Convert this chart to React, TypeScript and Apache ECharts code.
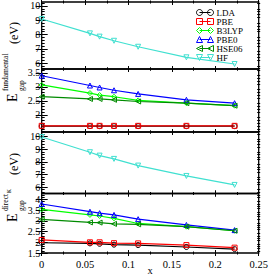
import React, { useEffect, useRef } from "react";
import * as echarts from "echarts";

// ---------------- data ----------------
const xValues = [0, 0.0556, 0.0667, 0.0833, 0.1111, 0.1667, 0.2222];

// fundamental gap (eV)
const hfFund = [9.09, 8.08, 7.85, 7.56, 7.14, 6.4, 5.93];
const ldaFund = [1.6, 1.6, 1.6, 1.6, 1.6, 1.6, 1.6];
const pbeFund = [1.61, 1.61, 1.61, 1.61, 1.61, 1.61, 1.61];
const b3lypFund = [3.07, 2.78, 2.71, 2.65, 2.52, 2.42, 2.33];
const pbe0Fund = [3.4, 3.05, 2.98, 2.88, 2.75, 2.54, 2.42];
const hse06Fund = [2.65, 2.57, 2.57, 2.54, 2.48, 2.42, 2.33];

// direct gap at K (eV)
const hfDirect = [9.97, 8.77, 8.5, 8.24, 7.71, 6.89, 6.18];
const ldaDirect = [1.98, 1.95, 1.93, 1.89, 1.87, 1.78, 1.68];
const pbeDirect = [2.11, 2.0, 2.0, 1.96, 1.95, 1.87, 1.75];
const b3lypDirect = [3.54, 3.28, 3.23, 3.12, 2.88, 2.73, 2.54];
const pbe0Direct = [3.79, 3.43, 3.36, 3.28, 3.08, 2.81, 2.57];
const hse06Direct = [3.07, 2.93, 2.92, 2.86, 2.84, 2.73, 2.54];

// tick labels
const xTickLabels = [0, 0.05, 0.1, 0.15, 0.2, 0.25];
const yTicksHfFund = [6, 7, 8, 9, 10];
const yTicksFund = [2, 2.5, 3, 3.5];
const yTicksHfDirect = [6, 7, 8, 9, 10];
const yTicksDirect = [1.5, 2, 2.5, 3, 3.5, 4];

const methodNames = ["LDA", "PBE", "B3LYP", "PBE0", "HSE06", "HF"];

// ---------------- styles ----------------
const FONT = "Liberation Serif";
const methodStyle: Record<string, { color: string; symbol: string; rotate: number }> = {
  LDA: { color: "#000000", symbol: "circle", rotate: 0 },
  PBE: { color: "#ff0000", symbol: "rect", rotate: 0 },
  B3LYP: { color: "#00ff00", symbol: "diamond", rotate: 0 },
  PBE0: { color: "#0000ff", symbol: "triangle", rotate: 0 },
  HSE06: { color: "#008b00", symbol: "triangle", rotate: 90 },
  HF: { color: "#40e0d0", symbol: "triangle", rotate: 180 },
};

const LEFT = 41.7;
const WIDTH = 217;
const panels = [
  { top: 2, height: 67, y: [5.58, 10.28], major: yTicksHfFund, minor: 0.2,
    series: [["HF", hfFund]] },
  { top: 69, height: 63, y: [1.39, 3.64], major: yTicksFund, minor: 0.1,
    series: [["LDA", ldaFund], ["PBE", pbeFund], ["B3LYP", b3lypFund], ["PBE0", pbe0Fund], ["HSE06", hse06Fund]] },
  { top: 132, height: 61.5, y: [5.5, 10.37], major: yTicksHfDirect, minor: 0.2,
    series: [["HF", hfDirect]] },
  { top: 193.5, height: 59.5, y: [1.5, 4.28], major: yTicksDirect, minor: 0.1,
    series: [["LDA", ldaDirect], ["PBE", pbeDirect], ["B3LYP", b3lypDirect], ["PBE0", pbe0Direct], ["HSE06", hse06Direct]] },
];

function minorValues(min: number, max: number, step: number, majors: number[]) {
  const out: number[] = [];
  const start = Math.ceil(min / step - 1e-9);
  for (let k = start; k * step <= max + 1e-9; k++) {
    const v = +(k * step).toFixed(6);
    if (!majors.some((m) => Math.abs(m - v) < 1e-6)) out.push(v);
  }
  return out;
}

function legendIconPath(symbol: string, rotate: number) {
  const shape = (cx: number) => {
    if (symbol === "circle") {
      const pts: string[] = [];
      for (let i = 0; i < 16; i++) {
        const a = (i / 16) * Math.PI * 2;
        pts.push(`${(cx + 6 * Math.cos(a)).toFixed(3)} ${(6 + 6 * Math.sin(a)).toFixed(3)}`);
      }
      return `M${pts.join(" L")} Z`;
    }
    if (symbol === "rect") return `M${cx - 6} 0 L${cx + 6} 0 L${cx + 6} 12 L${cx - 6} 12 Z`;
    if (symbol === "diamond") return `M${cx} 0 L${cx + 6} 6 L${cx} 12 L${cx - 6} 6 Z`;
    if (rotate === 90) return `M${cx - 6} 6 L${cx + 6} 0 L${cx + 6} 12 Z`;
    if (rotate === 180) return `M${cx} 12 L${cx + 6} 0 L${cx - 6} 0 Z`;
    return `M${cx} 0 L${cx + 6} 12 L${cx - 6} 12 Z`;
  };
  return `path://M6 6 L28 6 ${shape(6)} ${shape(28)}`;
}

function buildOption() {
  const grids: any[] = [];
  const xAxes: any[] = [];
  const yAxes: any[] = [];
  const series: any[] = [];
  const tickLine = { color: "#000", width: 1 };
  const xMinor = minorValues(0, 0.25, 0.025, xTickLabels);

  panels.forEach((p, g) => {
    grids.push({
      left: LEFT, top: p.top, width: WIDTH, height: p.height,
      show: true, borderColor: "#000", borderWidth: 1.3, backgroundColor: "transparent",
      containLabel: false, outerBoundsMode: "none",
    });
    const isLast = g === panels.length - 1;
    const baseX = { type: "value", gridIndex: g, min: 0, max: 0.25, splitLine: { show: false },
      axisLine: { show: false } };
    xAxes.push({ ...baseX, position: "bottom", offset: 3,
      axisTick: { show: true, inside: true, length: 6, customValues: xTickLabels, lineStyle: tickLine },
      axisLabel: { show: isLast, customValues: xTickLabels, margin: 3, color: "#000", fontFamily: FONT, fontSize: 10.5 } });
    xAxes.push({ ...baseX, position: "bottom", offset: 1.5,
      axisTick: { show: true, inside: true, length: 3, customValues: xMinor, lineStyle: tickLine },
      axisLabel: { show: false } });
    xAxes.push({ ...baseX, position: "top", offset: 3,
      axisTick: { show: true, inside: true, length: 6, customValues: xTickLabels, lineStyle: tickLine },
      axisLabel: { show: false } });
    xAxes.push({ ...baseX, position: "top", offset: 1.5,
      axisTick: { show: true, inside: true, length: 3, customValues: xMinor, lineStyle: tickLine },
      axisLabel: { show: false } });

    const yMin = p.y[0], yMax = p.y[1];
    const yMinor = minorValues(yMin, yMax, p.minor, p.major);
    const baseY = { type: "value", gridIndex: g, min: yMin, max: yMax, splitLine: { show: false },
      axisLine: { show: false } };
    yAxes.push({ ...baseY, position: "left", offset: 0, axisTick: { show: false },
      axisLabel: { show: true, customValues: p.major, margin: 1.5, color: "#000", fontFamily: FONT, fontSize: 10 } });
    yAxes.push({ ...baseY, position: "left", offset: 3,
      axisTick: { show: true, inside: true, length: 6, customValues: p.major, lineStyle: tickLine },
      axisLabel: { show: false } });
    yAxes.push({ ...baseY, position: "left", offset: 1.5,
      axisTick: { show: true, inside: true, length: 3, customValues: yMinor, lineStyle: tickLine },
      axisLabel: { show: false } });
    yAxes.push({ ...baseY, position: "right", offset: 3,
      axisTick: { show: true, inside: true, length: 6, customValues: p.major, lineStyle: tickLine },
      axisLabel: { show: false } });
    yAxes.push({ ...baseY, position: "right", offset: 1.5,
      axisTick: { show: true, inside: true, length: 3, customValues: yMinor, lineStyle: tickLine },
      axisLabel: { show: false } });

    p.series.forEach(([name, vals]: any) => {
      const st = methodStyle[name];
      series.push({
        type: "line", name, xAxisIndex: g * 4, yAxisIndex: g * 5,
        data: xValues.map((x, i) => [x, vals[i]]),
        symbol: st.symbol, symbolRotate: st.rotate, symbolSize: 5, showSymbol: true,
        lineStyle: { color: st.color, width: 1.2 },
        itemStyle: { color: "rgba(0,0,0,0)", borderColor: st.color, borderWidth: 1 },
        emphasis: { disabled: true }, silent: true, clip: false,
      });
    });
  });

  const titleText = (text: string, x: number, y: number, size: number) => ({
    type: "text", x, y, rotation: Math.PI / 2, silent: true,
    style: { text, fontSize: size, fontFamily: FONT, fill: "#000", align: "left", verticalAlign: "middle" },
  });

  return {
    animation: false,
    backgroundColor: "#ffffff",
    grid: grids,
    xAxis: xAxes,
    yAxis: yAxes,
    series,
    legend: {
      orient: "vertical", left: 196, top: 8, padding: 0, itemGap: 0,
      itemWidth: 17, itemHeight: 6, symbolKeepAspect: true,
      textStyle: { fontFamily: FONT, fontSize: 9, color: "#000", lineHeight: 8.3, padding: [0, 0, 0, -2] },
      selectedMode: false,
      data: methodNames.map((n) => ({
        name: n,
        icon: legendIconPath(methodStyle[n].symbol, methodStyle[n].rotate),
        itemStyle: { color: "rgba(0,0,0,0)", borderColor: methodStyle[n].color, borderWidth: 1 },
      })),
    },
    graphic: [
      titleText("E", 12, 102, 14),
      titleText("fundamental", 5, 91, 7.5),
      titleText("gap", 21, 91, 7.5),
      titleText("(eV)", 14, 44, 12),
      titleText("E", 12, 222, 14),
      titleText("direct", 5, 211, 7.5),
      titleText("K", 8.5, 193, 5.5),
      titleText("gap", 21, 211, 7.5),
      titleText("(eV)", 14, 175, 12),
      {
        type: "text", x: 150, y: 270, silent: true,
        style: { text: "x", fontSize: 10.5, fontFamily: FONT, fill: "#000", align: "center", verticalAlign: "middle" },
      },
    ],
  };
}

export default function App() {
  const ref = useRef<HTMLDivElement>(null);
  useEffect(() => {
    if (!ref.current) return;
    const chart = echarts.init(ref.current, null, { renderer: "svg" });
    chart.setOption(buildOption() as any);
    return () => chart.dispose();
  }, []);
  return (
    <div
      ref={ref}
      style={{ position: "absolute", left: 0, top: 0, width: 269, height: 276, background: "#fff" }}
    />
  );
}
